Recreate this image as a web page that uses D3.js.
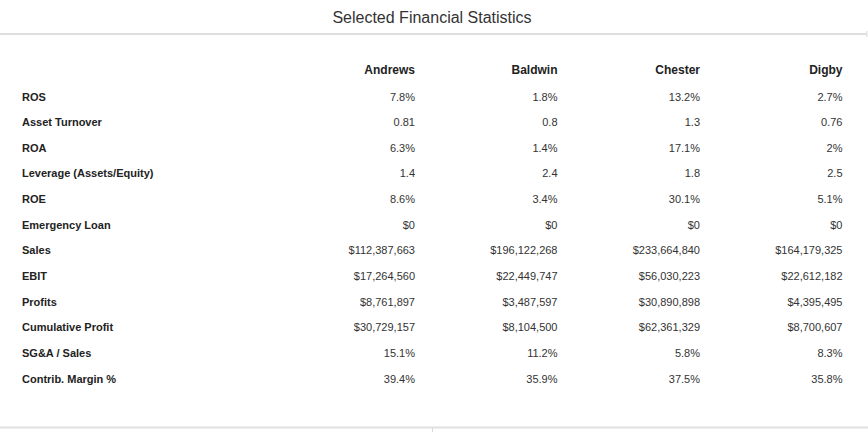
<!DOCTYPE html>
<html lang="en">
<head>
    <meta charset="utf-8">
    <script src="https://d3js.org/d3.v7.min.js"></script>
    <style>
        body { margin: 0; background: #fff; }
        .title { font-size: 16px; text-anchor: middle; font-family: "Liberation Sans", Arial, sans-serif; fill: #333; }
        .head { font-size: 12px; font-weight: bold; text-anchor: end; font-family: "Liberation Sans", Arial, sans-serif; fill: #222; }
        .label { font-size: 11px; font-weight: bold; font-family: "Liberation Sans", Arial, sans-serif; fill: #222; }
        .cell { font-size: 11px; text-anchor: end; font-family: "Liberation Sans", Arial, sans-serif; fill: #333; }
    </style>
</head>
<body>
    <div id="table"></div>
    <script>
        const width = 868;
        const height = 432;

        const companies = ["Andrews", "Baldwin", "Chester", "Digby"];
        const metrics = ["ROS", "Asset Turnover", "ROA", "Leverage (Assets/Equity)", "ROE", "Emergency Loan",
            "Sales", "EBIT", "Profits", "Cumulative Profit", "SG&A / Sales", "Contrib. Margin %"];

        const andrews = ["7.8%", "0.81", "6.3%", "1.4", "8.6%", "$0", "$112,387,663", "$17,264,560", "$8,761,897", "$30,729,157", "15.1%", "39.4%"];
        const baldwin = ["1.8%", "0.8", "1.4%", "2.4", "3.4%", "$0", "$196,122,268", "$22,449,747", "$3,487,597", "$8,104,500", "11.2%", "35.9%"];
        const chester = ["13.2%", "1.3", "17.1%", "1.8", "30.1%", "$0", "$233,664,840", "$56,030,223", "$30,890,898", "$62,361,329", "5.8%", "37.5%"];
        const digby = ["2.7%", "0.76", "2%", "2.5", "5.1%", "$0", "$164,179,325", "$22,612,182", "$4,395,495", "$8,700,607", "8.3%", "35.8%"];

        const columns = [andrews, baldwin, chester, digby];

        const svg = d3.select("#table")
            .append("svg")
            .attr("width", width)
            .attr("height", height);

        const xScale = d3.scalePoint().domain(companies).range([415, 842.5]);
        const yScale = d3.scalePoint().domain(metrics).range([100.5, 382.5]);

        svg.append("text")
            .attr("class", "title")
            .attr("x", 432)
            .attr("y", 22.5)
            .text("Selected Financial Statistics");

        // header rule
        svg.append("rect")
            .attr("x", 0).attr("y", 33)
            .attr("width", 866).attr("height", 2)
            .attr("fill", "#dedede");
        svg.append("rect")
            .attr("x", 866).attr("y", 31)
            .attr("width", 1.5).attr("height", 6)
            .attr("fill", "#e6e6e6");

        // bottom rule
        svg.append("rect")
            .attr("x", 0).attr("y", 426.5)
            .attr("width", width).attr("height", 2)
            .attr("fill", "#e0e0e0");
        svg.append("rect")
            .attr("x", 432).attr("y", 428)
            .attr("width", 1).attr("height", 4)
            .attr("fill", "#d8d8d8");

        svg.selectAll(".head")
            .data(companies)
            .enter().append("text")
            .attr("class", "head")
            .attr("x", d => xScale(d))
            .attr("y", 74)
            .text(d => d);

        svg.selectAll(".label")
            .data(metrics)
            .enter().append("text")
            .attr("class", "label")
            .attr("x", 22)
            .attr("y", d => yScale(d))
            .text(d => d);

        columns.forEach((col, i) => {
            svg.selectAll(".cell-" + i)
                .data(col)
                .enter().append("text")
                .attr("class", "cell cell-" + i)
                .attr("x", xScale(companies[i]))
                .attr("y", (d, j) => yScale(metrics[j]))
                .text(d => d);
        });
    </script>
</body>
</html>
